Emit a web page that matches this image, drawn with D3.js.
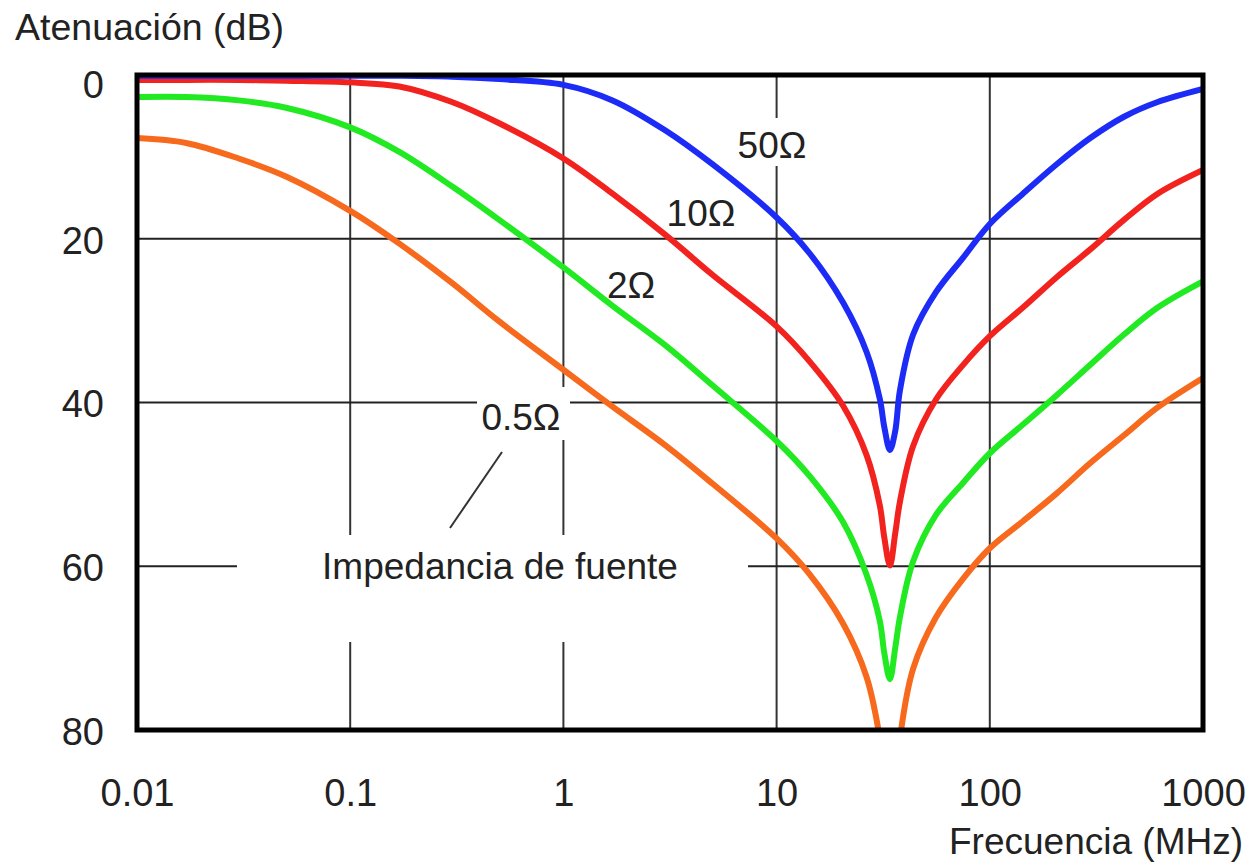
<!DOCTYPE html>
<html>
<head>
<meta charset="utf-8">
<script src="https://cdn.jsdelivr.net/npm/d3@7"></script>
<style>
  body { margin: 0; background: #fff; }
  text { font-family: "Liberation Sans", Arial, sans-serif; fill: #222; }
</style>
</head>
<body>
<div id="chart"></div>
<script>
// frequency (MHz) and attenuation (dB)
var freq = [0.01, 0.017, 0.03, 0.05, 0.1, 0.17, 0.3, 0.5, 1, 1.7, 3, 5, 10, 14.3, 20.5, 26.4, 30.5, 32, 34, 36, 37.9, 43.7, 56, 75, 100, 143, 206, 296, 426, 613, 1000]
var z50 = [0.1, 0.1, 0.1, 0.1, 0.1, 0.1, 0.2, 0.5, 1.2, 3.1, 6.75, 10.9, 17.4, 21.8, 27.8, 33.8, 39.6, 43, 45.8, 43.5, 38.5, 31.7, 26.5, 22.3, 18.2, 14.5, 10.9, 7.7, 5.1, 3.3, 1.7]
var z10 = [0.6, 0.6, 0.6, 0.7, 0.9, 1.4, 3.3, 5.9, 10.2, 14.5, 19.5, 24.4, 30.7, 35, 40.4, 46.4, 52.6, 56.5, 59.9, 56, 52.1, 45.3, 39.6, 35.4, 31.9, 28.4, 24.7, 21.3, 17.7, 14.5, 11.6]
var z2 = [2.7, 2.7, 3.1, 4.0, 6.4, 9.4, 13.6, 17.7, 23.5, 28.2, 33, 37.9, 44.7, 49, 54.6, 61, 66.7, 70.6, 73.8, 70, 66.2, 59.4, 53.7, 49.8, 46.2, 42.7, 39.1, 35.4, 31.7, 28.4, 25.2]
var z05 = [7.7, 8.3, 10.2, 12.4, 16.6, 20.6, 25.4, 30.1, 36, 40.5, 45.2, 49.9, 56.6, 61, 67, 73.5, 81, null, null, null, 81, 72.5, 66.2, 61.5, 57.8, 54.5, 51.1, 47.4, 44, 40.6, 37]

var xTicks = [0.01, 0.1, 1, 10, 100, 1000]
var xTickLabels = ["0.01", "0.1", "1", "10", "100", "1000"]
var yTicks = [0, 20, 40, 60, 80]

var series = [
	{ name: "0.5Ω", values: z05, color: "#f7691c" },
	{ name: "2Ω", values: z2, color: "#22ea22" },
	{ name: "10Ω", values: z10, color: "#f2231f" },
	{ name: "50Ω", values: z50, color: "#1c2cf6" }
]

var w = 1253, h = 864
var margin = { left: 137, top: 75, right: 50, bottom: 134 }

var svg = d3.select("#chart")
	.append("svg")
	.attr("width", w)
	.attr("height", h)

var x = d3.scaleLog()
	.domain([0.01, 1000])
	.range([margin.left, w - margin.right])

var y = d3.scaleLinear()
	.domain([0, 80])
	.range([margin.top, h - margin.bottom])

// clip for curves
svg.append("clipPath").attr("id", "plot")
	.append("rect")
	.attr("x", x(0.01)).attr("y", y(0))
	.attr("width", x(1000) - x(0.01)).attr("height", y(80) - y(0))

// grid
var grid = svg.append("g")
grid.selectAll(".vg").data(xTicks.slice(1, -1)).enter().append("line")
	.attr("x1", d => x(d)).attr("x2", d => x(d))
	.attr("y1", y(0)).attr("y2", y(80))
	.attr("stroke", "#333").attr("stroke-width", 2)
grid.selectAll(".hg").data(yTicks.slice(1, -1)).enter().append("line")
	.attr("x1", x(0.01)).attr("x2", x(1000))
	.attr("y1", d => y(d)).attr("y2", d => y(d))
	.attr("stroke", "#222").attr("stroke-width", 2)

// white patches behind the annotation texts
svg.append("rect").attr("x", 237).attr("y", 535).attr("width", 511).attr("height", 107).attr("fill", "#fff")
svg.append("rect").attr("x", 477).attr("y", 387).attr("width", 93).attr("height", 53).attr("fill", "#fff")
svg.append("rect").attr("x", 732).attr("y", 118).attr("width", 82).attr("height", 48).attr("fill", "#fff")

// curves
var line = d3.line()
	.defined(d => d[1] != null)
	.x(d => x(d[0]))
	.y(d => y(d[1]))
	.curve(d3.curveCatmullRom.alpha(0.5))

svg.append("g").attr("clip-path", "url(#plot)")
	.selectAll("path").data(series).enter().append("path")
	.attr("d", s => line(freq.map((f, i) => [f, s.values[i]])))
	.attr("fill", "none")
	.attr("stroke", s => s.color)
	.attr("stroke-width", 6)
	.attr("stroke-linejoin", "round")
	.attr("stroke-linecap", "round")

// frame
svg.append("rect")
	.attr("x", x(0.01)).attr("y", y(0))
	.attr("width", x(1000) - x(0.01)).attr("height", y(80) - y(0))
	.attr("fill", "none").attr("stroke", "#000").attr("stroke-width", 5)

// axes (labels only)
var yAxis = svg.append("g")
	.attr("transform", "translate(" + 104 + ",0)")
	.call(d3.axisLeft(y).tickValues(yTicks).tickSize(0).tickPadding(0))
yAxis.select(".domain").remove()
yAxis.selectAll("text")
	.attr("font-size", 38).attr("font-family", null).attr("fill", "#222")
	.attr("dy", d => d == 0 ? "0.58em" : "0.38em")

var xAxis = svg.append("g")
	.attr("transform", "translate(0," + 779 + ")")
	.call(d3.axisBottom(x).tickValues(xTicks).tickSize(0).tickPadding(0)
		.tickFormat((d, i) => xTickLabels[i]))
xAxis.select(".domain").remove()
xAxis.selectAll("text")
	.attr("font-size", 38).attr("font-family", null).attr("fill", "#222")
	.attr("dy", "0.71em")

// titles
svg.append("text").attr("x", 15).attr("y", 40).attr("font-size", 37.5).text("Atenuación (dB)")
svg.append("text").attr("x", 1243).attr("y", 854).attr("font-size", 37)
	.attr("text-anchor", "end").text("Frecuencia (MHz)")

// series labels
var labelPos = { "50Ω": [772, 158], "10Ω": [701, 226], "2Ω": [631, 298], "0.5Ω": [521, 430] }
svg.selectAll(".lab").data(series).enter().append("text")
	.attr("x", s => labelPos[s.name][0])
	.attr("y", s => labelPos[s.name][1])
	.attr("text-anchor", "middle")
	.attr("font-size", 37)
	.text(s => s.name)

// annotation
svg.append("line").attr("x1", 450).attr("y1", 528).attr("x2", 502).attr("y2", 452)
	.attr("stroke", "#333").attr("stroke-width", 2)
svg.append("text").attr("x", 500).attr("y", 579).attr("text-anchor", "middle")
	.attr("font-size", 37).text("Impedancia de fuente")
</script>
</body>
</html>
